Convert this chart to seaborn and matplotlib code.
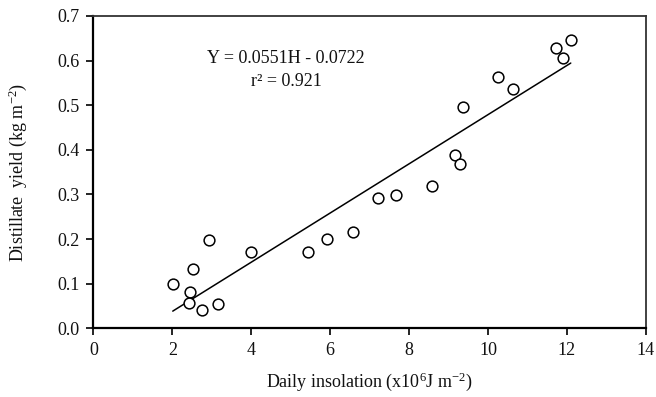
import matplotlib
matplotlib.use("Agg")
import matplotlib.pyplot as plt
import seaborn as sns
import numpy as np
import pandas as pd

# Data
insolation = [2.01, 2.45, 2.43, 2.52, 2.74, 2.94, 3.16, 3.99, 5.45, 5.91, 6.59,
              7.22, 7.67, 8.59, 9.17, 9.28, 9.38, 10.25, 10.64, 11.73, 12.10, 11.91]
yield_kg = [0.099, 0.082, 0.056, 0.132, 0.040, 0.199, 0.054, 0.171, 0.172, 0.200, 0.215,
            0.291, 0.299, 0.319, 0.389, 0.368, 0.495, 0.563, 0.537, 0.628, 0.646, 0.605]
slope = 0.0551
intercept = -0.0722
fit_x = [2.01, 12.10]
fit_y = [slope * v + intercept for v in fit_x]
x_ticks = [0, 2, 4, 6, 8, 10, 12, 14]
y_ticks = [0.0, 0.1, 0.2, 0.3, 0.4, 0.5, 0.6, 0.7]

sns.set_theme(style="white")
plt.rcParams['font.family'] = ['Liberation Serif', 'DejaVu Serif']
plt.rcParams['mathtext.fontset'] = 'custom'
plt.rcParams['mathtext.rm'] = 'Liberation Serif'
plt.rcParams['mathtext.it'] = 'Liberation Serif:italic'

df = pd.DataFrame({"x": insolation, "y": yield_kg})
fit = pd.DataFrame({"x": fit_x, "y": fit_y})

fig = plt.figure(figsize=(6.56, 3.97), dpi=100)
ax = fig.add_axes([0.1425, 0.173, 0.8418, 0.7867])

sns.lineplot(data=fit, x="x", y="y", ax=ax, color="black", linewidth=1.1)
sns.scatterplot(data=df, x="x", y="y", ax=ax, marker="o", s=60,
                facecolor="white", edgecolor="black", linewidth=1.1, zorder=3)

ax.set_xlim(0, 14)
ax.set_ylim(0, 0.7)
ax.set_xticks(x_ticks)
ax.set_yticks(y_ticks)
ax.set_xticklabels([str(t) for t in x_ticks])
ax.set_yticklabels([f"{t:.1f}" for t in y_ticks])
ax.tick_params(axis="both", which="both", direction="out", length=5, width=1.2,
               color="black", labelsize=13, labelcolor="#111111", pad=5,
               bottom=True, left=True)

for side in ["left", "bottom"]:
    ax.spines[side].set_linewidth(1.6)
    ax.spines[side].set_color("black")
for side in ["top", "right"]:
    ax.spines[side].set_linewidth(1.3)
    ax.spines[side].set_color("#333333")

ax.set_xlabel("Daily insolation (x10$^{6}$J m$^{-2}$)", fontsize=13, color="#111111", labelpad=8)
ax.set_ylabel("Distillate  yield (kg m$^{-2}$)", fontsize=13, color="#111111", labelpad=20)

ax.text(4.88, 0.605, "Y = 0.0551H - 0.0722", fontsize=13, ha="center", va="center", color="#111111")
ax.text(4.88, 0.553, "r² = 0.921", fontsize=13, ha="center", va="center", color="#111111")

ax.grid(False)
fig.savefig("out.png", dpi=100, facecolor="white")
